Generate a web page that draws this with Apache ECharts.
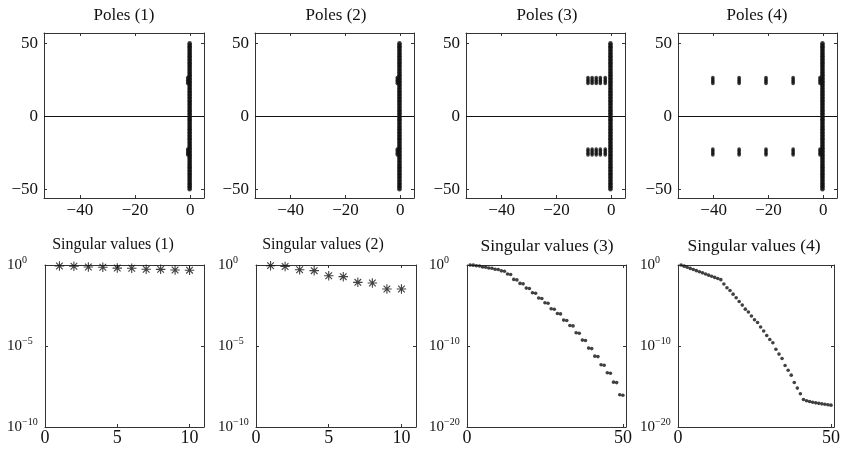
<!DOCTYPE html>
<html>
<head>
<meta charset="utf-8">
<script src="https://cdn.jsdelivr.net/npm/echarts@6/dist/echarts.min.js"></script>
<style>
  html, body { margin: 0; padding: 0; background: #fff; }
  #chart { width: 843px; height: 454px; }
</style>
</head>
<body>
<div id="chart"></div>
<script>
// ---- Pole locations (real part, imaginary part) ----
// poles lying along the imaginary axis, shared by all four models
const axisPoleImag = [
  -50, -49, -48, -47, -46, -45, -44, -43, -42, -41, -40, -39, -38, -37, -36, -35, -34,
  -33, -32, -31, -30, -29, -28, -27, -26, -25, -24, -23, -22, -21, -20, -19, -18, -17,
  -16, -15, -14, -13, -12, -11, -10, -9, -8, -7, -6, -5, -4, -3, -2, -1, 0,
  1, 2, 3, 4, 5, 6, 7, 8, 9, 10, 11, 12, 13, 14, 15, 16, 17, 18, 19, 20, 21, 22, 23,
  24, 25, 26, 27, 28, 29, 30, 31, 32, 33, 34, 35, 36, 37, 38, 39, 40, 41, 42, 43, 44,
  45, 46, 47, 48, 49, 50
];
const axisPoleReal = [-0.2, -0.3, -0.3, -0.3];
// damped pole groups near +/- 25j
const clusterImag = [22.5, 23.5, 24.5, 25.5, 26.5];
const clusterReal1 = [-0.9];
const clusterReal2 = [-1.1];
const clusterReal3 = [-8.5, -7, -5.5, -4, -2.2];
const clusterReal4 = [-40.3, -30.7, -20.9, -11, -1.2];

// ---- Hankel singular values, stored as log10 ----
const svIndex10 = [1, 2, 3, 4, 5, 6, 7, 8, 9, 10];
const svIndex50 = [
  1, 2, 3, 4, 5, 6, 7, 8, 9, 10, 11, 12, 13, 14, 15, 16, 17, 18, 19, 20, 21, 22, 23, 24, 25,
  26, 27, 28, 29, 30, 31, 32, 33, 34, 35, 36, 37, 38, 39, 40, 41, 42, 43, 44, 45, 46, 47, 48, 49, 50
];
const svLog1 = [-0.06, -0.08, -0.12, -0.14, -0.19, -0.20, -0.26, -0.27, -0.31, -0.32];
const svLog2 = [-0.04, -0.09, -0.29, -0.35, -0.66, -0.72, -1.07, -1.11, -1.48, -1.48];
const svLog3 = [
  0.00, -0.02, -0.10, -0.13, -0.24, -0.27, -0.37, -0.40, -0.52, -0.55, -0.72, -0.78,
  -1.12, -1.18, -1.78, -1.84, -2.27, -2.33, -2.85, -2.91, -3.43, -3.49, -4.08, -4.14,
  -4.66, -4.72, -5.40, -5.46, -5.98, -6.04, -6.80, -6.86, -7.46, -7.52, -8.37, -8.43,
  -9.27, -9.33, -10.26, -10.32, -11.25, -11.31, -12.32, -12.38, -13.30, -13.36,
  -14.46, -14.52, -16.02, -16.08
];
const svLog4 = [
  0.00, -0.14, -0.28, -0.42, -0.56, -0.70, -0.84, -0.97, -1.11, -1.25, -1.39, -1.53,
  -1.67, -1.81, -2.35, -2.80, -3.15, -3.60, -4.05, -4.50, -4.95, -5.45, -5.80, -6.30,
  -6.75, -7.10, -7.65, -8.15, -8.70, -9.20, -9.60, -10.40, -11.00, -11.55, -12.40,
  -13.00, -13.60, -14.50, -15.20, -15.90, -16.60, -16.75, -16.85, -16.95, -17.02,
  -17.08, -17.14, -17.20, -17.25, -17.30
];

// ---- Tick values ----
const poleXTicks = [-40, -20, 0];
const poleYTicks = [-50, 0, 50];
const svXTicks10 = [0, 5, 10];
const svXTicks50 = [0, 50];
const svYTicks10 = [-10, -5, 0];
const svYTicks20 = [-20, -10, 0];

const titleTexts = [
  'Poles (1)', 'Poles (2)', 'Poles (3)', 'Poles (4)',
  'Singular values (1)', 'Singular values (2)', 'Singular values (3)', 'Singular values (4)'
];

// ---- Helpers ----
const FONT = "'Liberation Serif', 'DejaVu Serif', 'Times New Roman', serif";
const INK = '#111';
const FRAME = '#333';
const minusSign = v => String(v).replace('-', '\u2212');
const powerLabel = v => '{b|10}{s|' + minusSign(v) + '}';
const powerRich = {
  b: { fontFamily: FONT, fontSize: 15, lineHeight: 20, color: INK },
  s: { fontFamily: FONT, fontSize: 10, lineHeight: 8, verticalAlign: 'top', color: INK }
};

const zip = (xs, ys) => xs.map((x, i) => [x, ys[i]]);
const axisPoints = realAxis => axisPoleImag.map(y => [realAxis, y]);
function clusterPoints(clusterReal) {
  const pts = [];
  clusterReal.forEach(r => clusterImag.forEach(i => { pts.push([r, i]); pts.push([r, -i]); }));
  return pts;
}

const STAR = 'path://M5 0L5 10M0 5L10 5M1.5 1.5L8.5 8.5M8.5 1.5L1.5 8.5';

// panel layout: [left, top, width, height]; title centre x and font size
const panels = [
  { box: [44, 33, 160, 165], tx: 124, tf: 17, x: [-53, 5], y: [-56, 57], xt: poleXTicks, yt: poleYTicks, pow: false,
    line: axisPoints(axisPoleReal[0]), groups: clusterPoints(clusterReal1) },
  { box: [255, 33, 159, 165], tx: 336, tf: 17, x: [-53, 5], y: [-56, 57], xt: poleXTicks, yt: poleYTicks, pow: false,
    line: axisPoints(axisPoleReal[1]), groups: clusterPoints(clusterReal2) },
  { box: [466, 33, 159, 165], tx: 547, tf: 17, x: [-53, 5], y: [-56, 57], xt: poleXTicks, yt: poleYTicks, pow: false,
    line: axisPoints(axisPoleReal[2]), groups: clusterPoints(clusterReal3) },
  { box: [678, 33, 159, 165], tx: 757, tf: 17, x: [-53, 5], y: [-56, 57], xt: poleXTicks, yt: poleYTicks, pow: false,
    line: axisPoints(axisPoleReal[3]), groups: clusterPoints(clusterReal4) },
  { box: [45, 265, 159, 162], tx: 113, tf: 16, x: [0, 11], y: [-10, 0], xt: svXTicks10, yt: svYTicks10, pow: true,
    sv: zip(svIndex10, svLog1), kind: 'star' },
  { box: [256, 265, 160, 162], tx: 323, tf: 16, x: [0, 11], y: [-10, 0], xt: svXTicks10, yt: svYTicks10, pow: true,
    sv: zip(svIndex10, svLog2), kind: 'star' },
  { box: [467, 265, 159, 162], tx: 547, tf: 17.5, x: [0, 51], y: [-20, 0], xt: svXTicks50, yt: svYTicks20, pow: true,
    sv: zip(svIndex50, svLog3), kind: 'dot' },
  { box: [678, 265, 158, 162], tx: 754, tf: 17.5, x: [0, 51], y: [-20, 0], xt: svXTicks50, yt: svYTicks20, pow: true,
    sv: zip(svIndex50, svLog4), kind: 'dot' }
];

const grid = [], xAxis = [], yAxis = [], series = [], title = [];
const frameLine = { color: FRAME, width: 1 };

panels.forEach((p, gi) => {
  const [l, t, w, h] = p.box;
  grid.push({ left: l, top: t, width: w, height: h });

  title.push({
    text: titleTexts[gi], left: p.tx, top: gi < 4 ? 7 : 237, textAlign: 'center', padding: 0,
    textStyle: { fontFamily: FONT, fontSize: p.tf, fontWeight: 'normal', color: INK }
  });

  ['bottom', 'top'].forEach((pos, k) => {
    xAxis.push({
      type: 'value', gridIndex: gi, position: pos, min: p.x[0], max: p.x[1],
      axisLine: { show: true, onZero: false, lineStyle: frameLine },
      axisTick: { show: true, inside: true, length: 3, lineStyle: frameLine, customValues: p.xt },
      splitLine: { show: false },
      axisLabel: k === 0 ? {
        show: true, customValues: p.xt, formatter: minusSign, margin: p.pow ? 2 : 4,
        fontFamily: FONT, fontSize: p.pow ? 18 : 17, color: INK
      } : { show: false }
    });
  });
  ['left', 'right'].forEach((pos, k) => {
    yAxis.push({
      type: 'value', gridIndex: gi, position: pos, min: p.y[0], max: p.y[1],
      axisLine: { show: true, onZero: false, lineStyle: frameLine },
      axisTick: { show: true, inside: true, length: 3, lineStyle: frameLine, customValues: p.yt },
      splitLine: { show: false },
      axisLabel: k === 0 ? (p.pow ? {
        show: true, customValues: p.yt, formatter: powerLabel, rich: powerRich,
        align: 'left', margin: 38
      } : {
        show: true, customValues: p.yt, formatter: minusSign, margin: 6,
        fontFamily: FONT, fontSize: 17, color: INK
      }) : { show: false }
    });
  });

  const base = { type: 'scatter', xAxisIndex: gi * 2, yAxisIndex: gi * 2, animation: false, silent: true };
  if (p.line) {
    series.push(Object.assign({}, base, {
      name: 'imaginary-axis poles', data: p.line, symbol: 'circle', symbolSize: 4.5,
      itemStyle: { color: INK },
      markLine: {
        silent: true, symbol: 'none', animation: false,
        label: { show: false },
        lineStyle: { color: INK, width: 1, type: 'solid' },
        data: [{ yAxis: 0 }]
      }
    }));
    series.push(Object.assign({}, base, {
      name: 'damped poles', data: p.groups, symbol: 'circle', symbolSize: 3.6,
      itemStyle: { color: INK }
    }));
  } else if (p.kind === 'star') {
    series.push(Object.assign({}, base, {
      name: 'singular values', data: p.sv, symbol: STAR, symbolSize: 9.5,
      itemStyle: { color: 'transparent', borderColor: INK, borderWidth: 1.1 }
    }));
  } else {
    series.push(Object.assign({}, base, {
      name: 'singular values', data: p.sv, symbol: 'circle', symbolSize: 3.6,
      itemStyle: { color: INK }
    }));
  }
});

const chart = echarts.init(document.getElementById('chart'), null, { renderer: 'canvas' });
chart.setOption({
  backgroundColor: '#fff',
  animation: false,
  title, grid, xAxis, yAxis, series
});
</script>
</body>
</html>
